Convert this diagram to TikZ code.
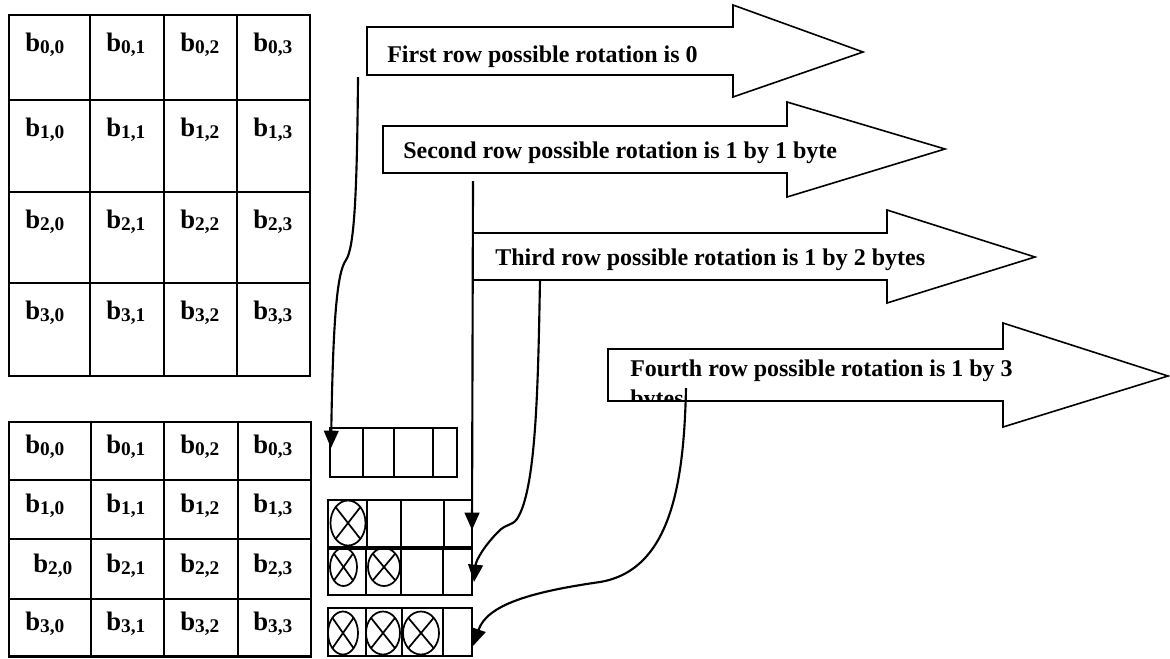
\documentclass[tikz,border=0pt]{standalone}
\usepackage{fontspec}
\setmainfont{Liberation Serif}
\usetikzlibrary{arrows.meta}
% bold "b" with a row,column subscript
\newcommand\bij[2]{b\raisebox{-1.5pt}{\fontsize{14.5}{15}\selectfont #1,#2}}
\begin{document}
\begin{tikzpicture}[x=0.75pt,y=-0.75pt,
  matline/.style={line width=1.7pt},
  cellbox/.style={line width=1.3pt},
  rowarrow/.style={draw,line width=1.2pt,fill=white,line join=miter},
  cellnum/.style={anchor=base west,inner sep=0pt,font=\fontsize{20}{22}\selectfont\bfseries},
  rowtext/.style={anchor=base west,inner sep=0pt,font=\fontsize{18}{21.6}\selectfont\bfseries},
  connector/.style={line width=1.6pt,-{Triangle[length=13pt,width=11pt]}},
  xo/.style={line width=1.3pt}]
\useasboundingbox (0,0) rectangle (1170,658);

% ---- state matrix before shifting
\draw[matline] (9,15) rectangle (310,376);
\foreach \x in {90,164,237} \draw[matline] (\x,15) -- (\x,376);
\foreach \y in {100,192,283} \draw[matline] (9,\y) -- (310,\y);
\foreach \r/\yb in {0/51,1/136,2/228,3/319}
  \foreach \c/\xl in {0/25,1/106,2/180,3/253}
    \node[cellnum] (top-\r-\c) at (\xl,\yb) {\bij{\r}{\c}};

% ---- state matrix after shifting
\draw[matline] (9,422) rectangle (311,656.5);
\foreach \x in {91,164,238} \draw[matline] (\x,422) -- (\x,656.5);
\foreach \y in {480,539,599} \draw[matline] (9,\y) -- (311,\y);
\foreach \r/\yb in {0/453,1/512,3/630}
  \foreach \c/\xl in {0/25,1/106,2/180,3/253}
    \node[cellnum] (bot-\r-\c) at (\xl,\yb) {\bij{\r}{\c}};
\foreach \c/\xl in {0/33,1/106,2/180,3/253}
  \node[cellnum] (bot-2-\c) at (\xl,572) {\bij{2}{\c}};

% ---- byte rows with rotated positions
\draw[cellbox] (330,428) rectangle (457,477);
\foreach \x in {363,394,433} \draw[cellbox] (\x,428) -- (\x,477);
\draw[cellbox] (328,500) rectangle (472,547);
\foreach \x in {367,401,444} \draw[cellbox] (\x,500) -- (\x,547);
\draw[cellbox] (328,549) rectangle (472,595);
\foreach \x in {366,401,443} \draw[cellbox] (\x,549) -- (\x,595);
\draw[cellbox] (328,608) rectangle (472,656);
\foreach \x in {366,402,443} \draw[cellbox] (\x,608) -- (\x,656);

% crossed circles marking rotated bytes
\foreach \cx/\cy/\rx/\ry in {348/523/17.5/22.5, 343.5/567/13.5/19, 384/567/16/19,
                             343/633/15/21.5, 383/633/17/21.5, 421/633/18/21.5}{
  \draw[xo] (\cx,\cy) ellipse [x radius=\rx*0.75pt, y radius=\ry*0.75pt];
  \draw[xo] (\cx-0.707*\rx,\cy-0.707*\ry) -- (\cx+0.707*\rx,\cy+0.707*\ry);
  \draw[xo] (\cx-0.707*\rx,\cy+0.707*\ry) -- (\cx+0.707*\rx,\cy-0.707*\ry);
}

% ---- block arrows with the rotation rules
\draw[rowarrow] (367,27) -- (733,27) -- (733,5) -- (863,52) -- (733,97) -- (733,75) -- (367,75) -- cycle;
\node[rowtext] (rule1) at (387,62) {First row possible rotation is 0};

\draw[rowarrow] (383,126) -- (787,126) -- (787,102) -- (945,149) -- (787,197) -- (787,173) -- (383,173) -- cycle;
\node[rowtext] (rule2) at (403,158) {Second row possible rotation is 1 by 1 byte};

\draw[rowarrow] (473,233) -- (887,233) -- (887,210) -- (1035,257) -- (887,303) -- (887,280) -- (473,280) -- cycle;
\node[rowtext] (rule3) at (495,265) {Third row possible rotation is 1 by 2 bytes};

\draw[rowarrow] (608,349) -- (1003,349) -- (1003,323) -- (1168,376) -- (1003,427) -- (1003,401) -- (608,401) -- cycle;
% the text box is shorter than its two lines, so the second one is cut off
\begin{scope}
  \clip (609,350) rectangle (1150,400.3);
  \node[rowtext] (rule4) at (630,376) {Fourth row possible rotation is 1 by 3};
  \node[rowtext] (rule4b) at (630,406) {bytes};
\end{scope}

% ---- connector end points
\coordinate (src1) at (358,77);
\coordinate (dst1) at (331,448);
\coordinate (src2) at (473,181);
\coordinate (dst2) at (472,530);
\coordinate (src3) at (540,280);
\coordinate (dst3) at (474,582);
\coordinate (src4) at (686,388);
\coordinate (dst4) at (473,646);

\draw[connector] (src1) .. controls (357,200) and (354,248) .. (346,260)
  .. controls (337,272) and (333,320) .. (dst1);
\draw[connector] (src2) -- (dst2);
\draw[connector] (src3) .. controls (538,390) and (536,490) .. (517,519)
  .. controls (512,526) and (505,524) .. (498,532)
  .. controls (485,545) and (476,560) .. (dst3);
\draw[connector] (src4) .. controls (684,480) and (672,570) .. (600,582)
  .. controls (530,592) and (487,605) .. (dst4);
\end{tikzpicture}
\end{document}
